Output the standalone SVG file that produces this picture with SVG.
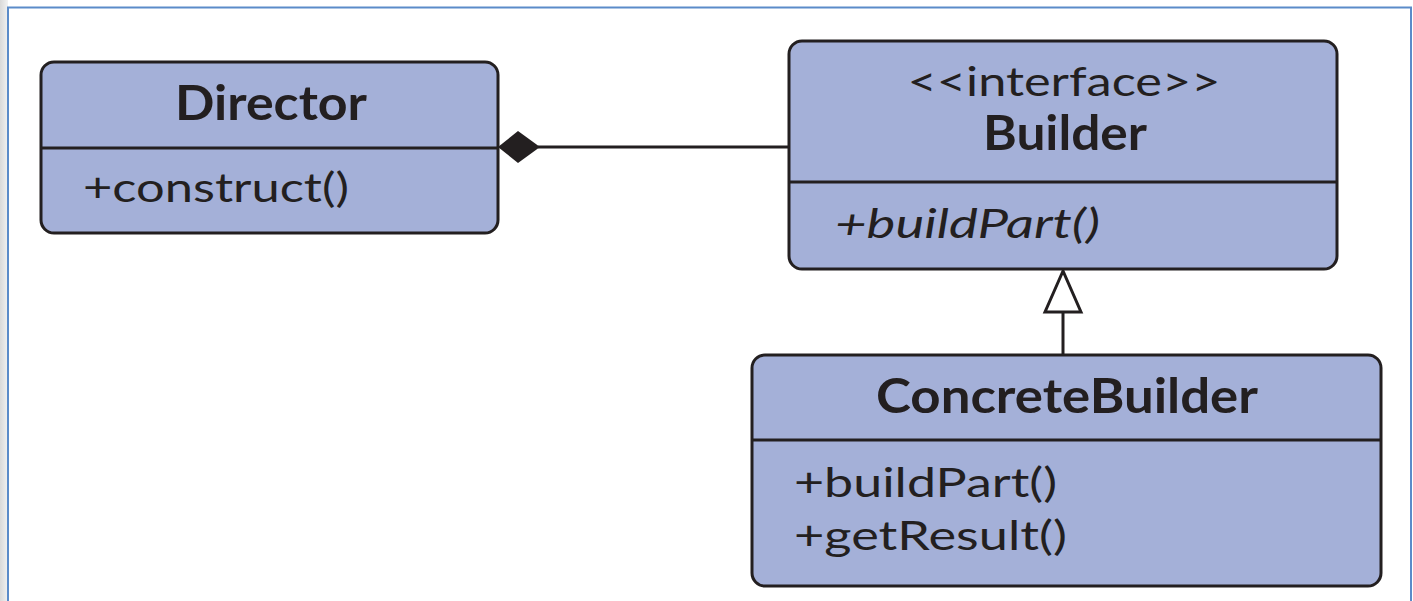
<svg xmlns="http://www.w3.org/2000/svg" width="1413" height="601" viewBox="0 0 1413 601">
  <defs>
    <linearGradient id="edge" x1="0" y1="0" x2="1" y2="0">
      <stop offset="0" stop-color="#d9d9d9"/>
      <stop offset="1" stop-color="#f2f2f2"/>
    </linearGradient>
    <style>
      .box { fill: #a4b0d8; stroke: #231f20; stroke-width: 3; }
      .sep { stroke: #231f20; stroke-width: 3; }
      .link { stroke: #231f20; stroke-width: 3; fill: none; }
      text { font-family: Lato, "Open Sans", sans-serif; fill: #231f20; }
      .title { font-weight: 700; font-size: 48px; text-anchor: middle; }
      .stereo { font-size: 41px; text-anchor: middle; }
      .member { font-size: 41px; }
      .abstract { font-style: italic; }
    </style>
  </defs>

  <rect x="0" y="0" width="1413" height="601" fill="#ffffff"/>
  <rect x="0" y="0" width="8" height="601" fill="url(#edge)"/>
  <!-- frame -->
  <path d="M8 601 V7.5 H1411 V601" fill="none" stroke="#5b8bc9" stroke-width="2"/>

  <g id="connectors">
    <!-- composition: Director owns Builder -->
    <line class="link" x1="538" y1="147" x2="789" y2="147"/>
    <polygon points="498,147 518,131 540,147 518,163" fill="#231f20"/>
    <!-- realization: ConcreteBuilder implements Builder -->
    <line class="link" x1="1063" y1="312" x2="1063" y2="355"/>
    <polygon points="1063,271 1045,312 1081,312" fill="#ffffff" stroke="#231f20" stroke-width="3" stroke-linejoin="miter"/>
  </g>

  <g id="director">
    <rect class="box" x="41" y="62" width="457" height="171" rx="13"/>
    <line class="sep" x1="41" y1="148" x2="498" y2="148"/>
    <text class="title" x="271" y="120" textLength="192" lengthAdjust="spacingAndGlyphs">Director</text>
    <text class="member" x="83" y="202" textLength="266" lengthAdjust="spacingAndGlyphs">+construct()</text>
  </g>

  <g id="builder">
    <rect class="box" x="789" y="41" width="548" height="228" rx="13"/>
    <line class="sep" x1="789" y1="182" x2="1337" y2="182"/>
    <text class="stereo" x="1064" y="96" textLength="313" lengthAdjust="spacingAndGlyphs">&lt;&lt;interface&gt;&gt;</text>
    <text class="title" x="1065" y="150" textLength="164" lengthAdjust="spacingAndGlyphs">Builder</text>
    <text class="member abstract" x="835" y="238" textLength="265" lengthAdjust="spacingAndGlyphs">+buildPart()</text>
  </g>

  <g id="concrete-builder">
    <rect class="box" x="752" y="355" width="629" height="231" rx="13"/>
    <line class="sep" x1="752" y1="440" x2="1381" y2="440"/>
    <text class="title" x="1067" y="413" textLength="382" lengthAdjust="spacingAndGlyphs">ConcreteBuilder</text>
    <text class="member" x="794" y="497" textLength="263" lengthAdjust="spacingAndGlyphs">+buildPart()</text>
    <text class="member" x="794" y="550" textLength="273" lengthAdjust="spacingAndGlyphs">+getResult()</text>
  </g>
</svg>
